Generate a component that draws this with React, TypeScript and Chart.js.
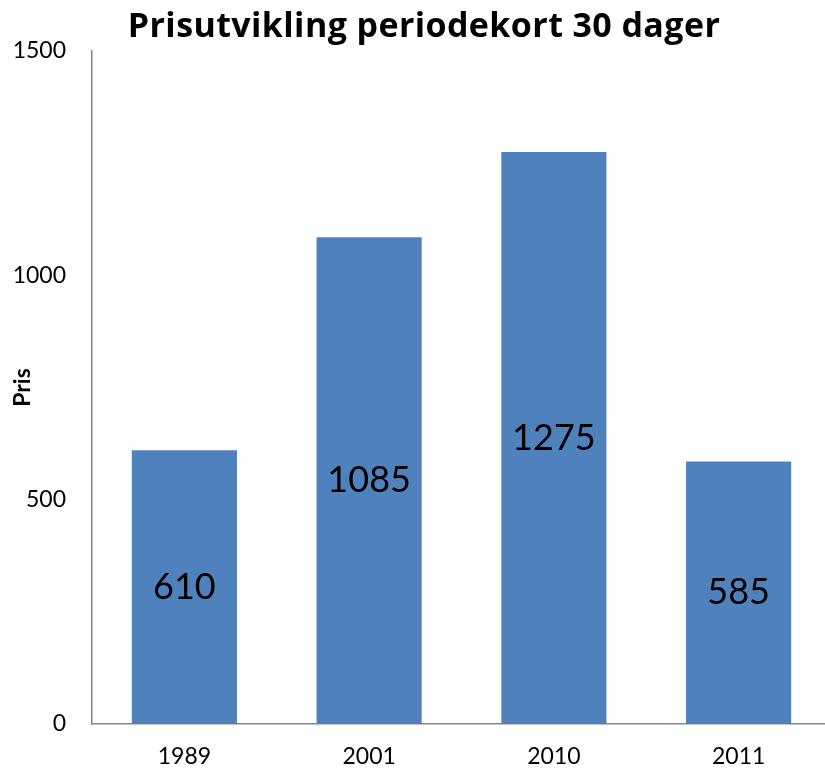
import React, { useEffect, useRef } from "react";
import { Chart, registerables } from "chart.js";

Chart.register(...registerables);

const chartTitle = "Prisutvikling periodekort 30 dager";
const yAxisTitle = "Pris";
const categories = ["1989", "2001", "2010", "2011"];
const prices = [610, 1085, 1275, 585];
const yTicks = [0, 500, 1000, 1500];

const FONT = "Lato, 'Open Sans', sans-serif";
const TITLE_FONT = "'Open Sans', Lato, sans-serif";

const titlePlugin = {
  id: "customTitle",
  afterDraw(chart: any) {
    const ctx = chart.ctx;
    ctx.save();
    ctx.font = `bold 34px ${TITLE_FONT}`;
    try {
      (ctx as any).letterSpacing = "0.4px";
    } catch (e) {}
    ctx.fillStyle = "#000000";
    ctx.textAlign = "center";
    ctx.textBaseline = "alphabetic";
    ctx.fillText(chartTitle, 424, 37);
    ctx.restore();
  },
};

const barLabelPlugin = {
  id: "barLabels",
  afterDatasetsDraw(chart: any) {
    const ctx = chart.ctx;
    const meta = chart.getDatasetMeta(0);
    const data = chart.data.datasets[0].data;
    ctx.save();
    ctx.font = `36px ${FONT}`;
    ctx.fillStyle = "#000000";
    ctx.textAlign = "center";
    ctx.textBaseline = "middle";
    meta.data.forEach((el: any, i: number) => {
      const p = el.getCenterPoint();
      ctx.fillText(String(data[i]), p.x, p.y);
    });
    ctx.restore();
  },
};

export default function App() {
  const ref = useRef<HTMLCanvasElement>(null);

  useEffect(() => {
    if (!ref.current) return;
    const chart = new Chart(ref.current, {
      type: "bar",
      data: {
        labels: categories,
        datasets: [
          {
            data: prices,
            backgroundColor: "#4F81BD",
            borderWidth: 0,
            categoryPercentage: 1,
            barPercentage: 0.569,
          },
        ],
      },
      options: {
        responsive: false,
        animation: false,
        devicePixelRatio: 1,
        layout: { padding: { top: 51, right: 13, left: 0, bottom: 0 } },
        plugins: {
          legend: { display: false },
          tooltip: { enabled: false },
          title: { display: false },
        },
        scales: {
          x: {
            grid: { display: false, drawTicks: false },
            border: { display: true, color: "#868686", width: 1.5 },
            ticks: {
              color: "#000000",
              font: { family: FONT, size: 23 },
              padding: 19,
              maxRotation: 0,
              autoSkip: false,
            },
            afterFit(scale: any) {
              scale.height = 44;
            },
          },
          y: {
            min: 0,
            max: 1500,
            grid: { display: false, drawTicks: false },
            border: { display: true, color: "#868686", width: 1.5 },
            afterBuildTicks(scale: any) {
              scale.ticks = yTicks.map((v) => ({ value: v }));
            },
            ticks: {
              color: "#000000",
              font: { family: FONT, size: 23 },
              padding: 26,
              callback: (v: any) => String(v),
            },
            title: {
              display: true,
              text: yAxisTitle,
              color: "#000000",
              font: { family: FONT, size: 23, weight: "bold" },
              padding: { top: 9, bottom: 0 },
            },
            afterFit(scale: any) {
              scale.width = 92;
            },
          },
        },
      },
      plugins: [titlePlugin, barLabelPlugin],
    });
    return () => chart.destroy();
  }, []);

  return (
    <div
      style={{
        position: "absolute",
        left: 0,
        top: 0,
        width: 825,
        height: 768,
        overflow: "hidden",
        background: "#ffffff",
      }}
    >
      <canvas ref={ref} width={844} height={768} style={{ display: "block" }} />
    </div>
  );
}
